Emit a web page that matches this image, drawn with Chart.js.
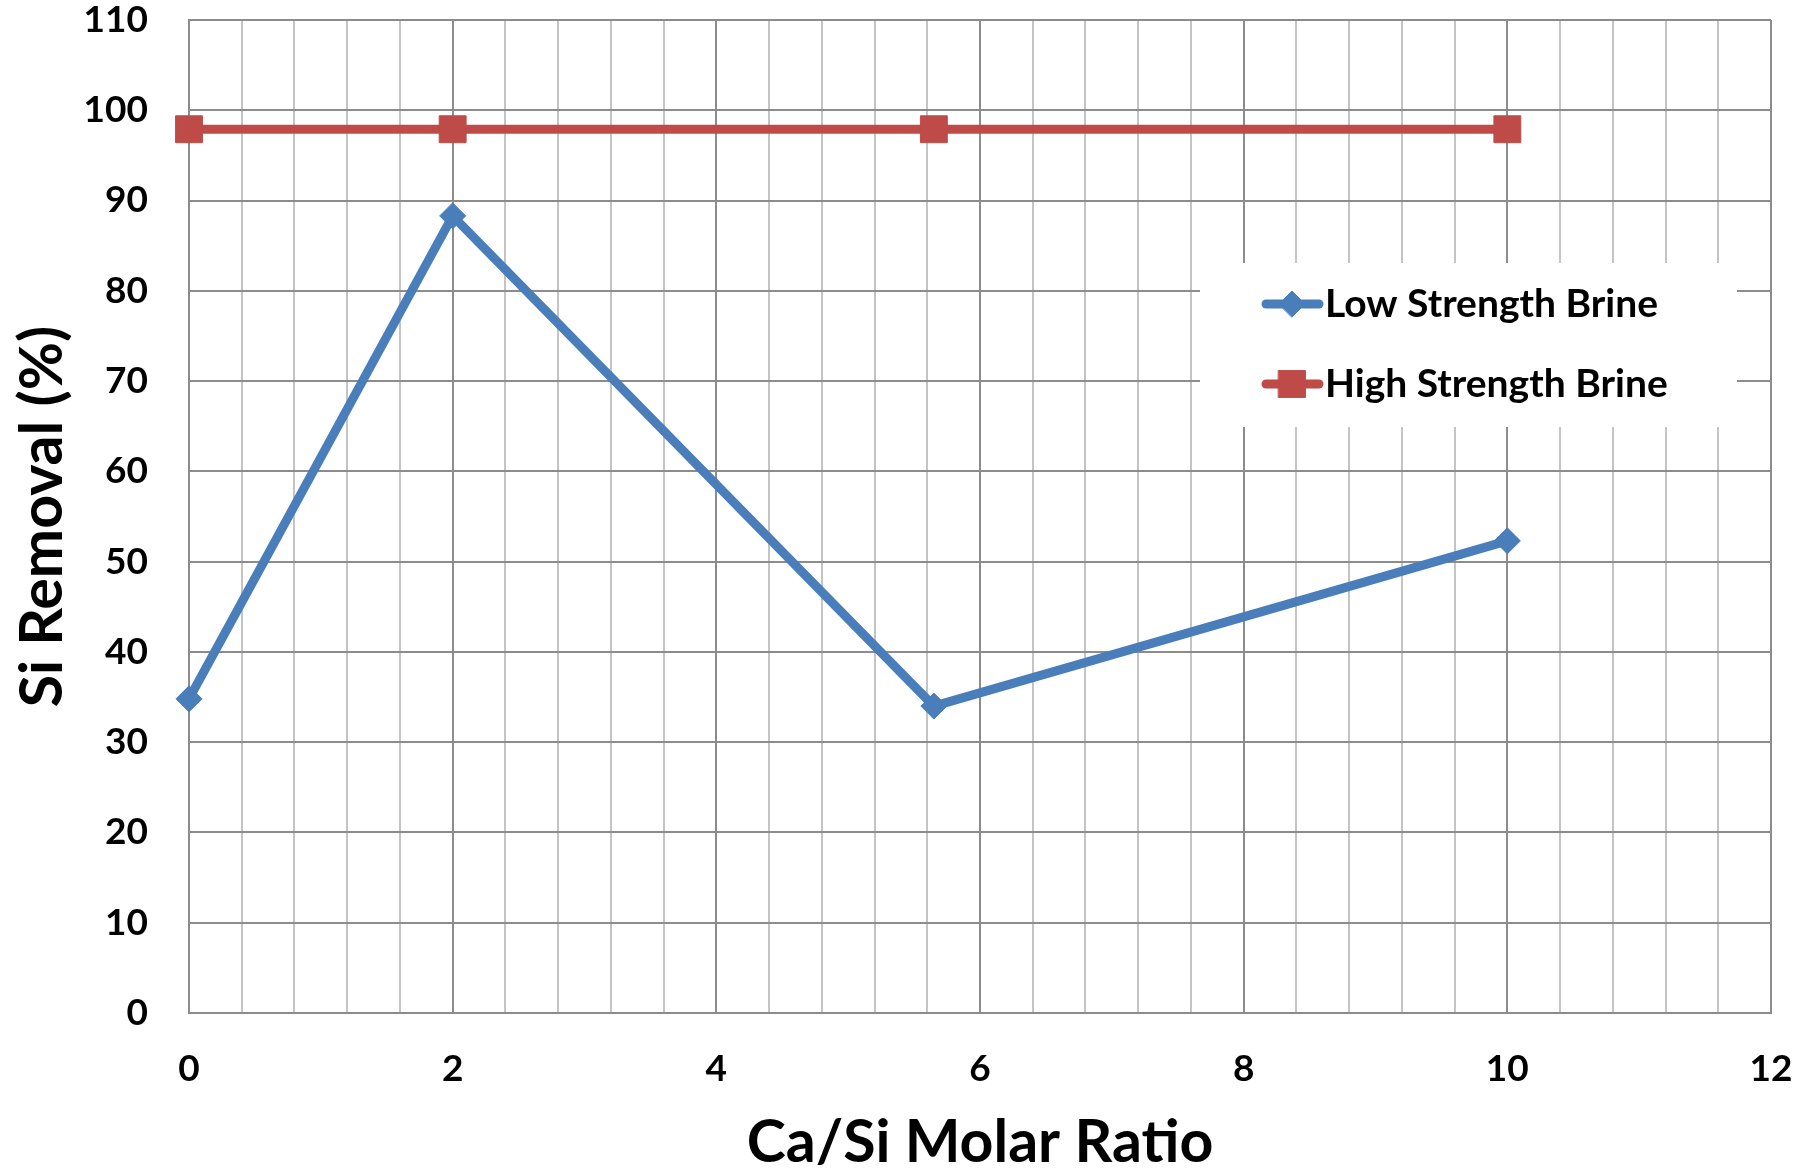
<!DOCTYPE html>
<html lang="en">
<head>
<meta charset="UTF-8">
<title>Si Removal vs Ca/Si Molar Ratio</title>
<script src="https://cdn.jsdelivr.net/npm/chart.js@4.4.0/dist/chart.umd.min.js"></script>
<style>
  body { margin: 0; background: #fff; }
  #wrap { width: 1810px; height: 1172px; }
</style>
</head>
<body>
<div id="wrap"><canvas id="chart" width="1810" height="1172"></canvas></div>
<script>
// Ca/Si ratios tested and the measured Si removal for both brines
var molarRatio = [0, 2, 5.65, 10];
var lowStrength = [34.8, 88.3, 34.0, 52.3];
var highStrength = [97.9, 97.9, 97.9, 97.9];
var seriesNames = ["Low Strength Brine", "High Strength Brine"];
var xTickLabels = [0, 2, 4, 6, 8, 10, 12];
var yTickLabels = [0, 10, 20, 30, 40, 50, 60, 70, 80, 90, 100, 110];

var BLUE = "#4a7ebb";
var RED = "#be4b48";
var FONT = "Lato, 'Open Sans', sans-serif";

function points(ys) {
  return molarRatio.map(function (x, i) { return { x: x, y: ys[i] }; });
}

function isLabelled(v) {
  return xTickLabels.some(function (t) { return Math.abs(t - v) < 1e-6; });
}

// Excel style legend: line sample with marker, on a white box over the grid
var boxLegend = {
  id: "boxLegend",
  afterDatasetsDraw: function (chart) {
    var ctx = chart.ctx, area = chart.chartArea;
    var w = 537, h = 164;
    var left = area.right - 34 - w, top = area.top + 243;
    ctx.save();
    ctx.fillStyle = "#fff";
    ctx.fillRect(left, top, w, h);
    chart.data.datasets.forEach(function (ds, i) {
      var y = top + 41 + i * 80;
      var x0 = left + 66;
      ctx.strokeStyle = ds.borderColor;
      ctx.fillStyle = ds.backgroundColor;
      ctx.lineWidth = ds.borderWidth;
      ctx.lineCap = "round";
      ctx.beginPath();
      ctx.moveTo(x0, y);
      ctx.lineTo(x0 + 53, y);
      ctx.stroke();
      ctx.lineWidth = 1;
      Chart.helpers.drawPoint(ctx, { pointStyle: ds.pointStyle, radius: ds.pointRadius, borderWidth: 1, rotation: 0 }, x0 + 26, y);
      ctx.fillStyle = "#000";
      ctx.font = "bold 39px " + FONT;
      ctx.textBaseline = "middle";
      ctx.textAlign = "left";
      ctx.fillText(ds.label, x0 + 59, y);
    });
    ctx.restore();
  }
};

new Chart(document.getElementById("chart"), {
  type: "line",
  data: {
    datasets: [
      {
        label: seriesNames[0],
        data: points(lowStrength),
        borderColor: BLUE,
        backgroundColor: BLUE,
        borderWidth: 9,
        pointStyle: "rectRot",
        pointRadius: 13,
        pointBorderWidth: 1,
        tension: 0,
        clip: false
      },
      {
        label: seriesNames[1],
        data: points(highStrength),
        borderColor: RED,
        backgroundColor: RED,
        borderWidth: 9,
        pointStyle: "rect",
        pointRadius: 19,
        pointBorderWidth: 1,
        tension: 0,
        clip: false
      }
    ]
  },
  options: {
    responsive: false,
    animation: false,
    layout: { padding: 0 },
    plugins: { legend: { display: false }, tooltip: { enabled: false } },
    scales: {
      x: {
        type: "linear",
        min: 0,
        max: 12,
        afterFit: function (s) { s.height = 159; s.paddingLeft = 0; s.paddingRight = 39; },
        border: { display: true, color: "#8c8c8c", width: 2 },
        grid: {
          drawTicks: false,
          lineWidth: 2,
          color: function (c) { return isLabelled(c.tick.value) ? "#8c8c8c" : "#c4c4c4"; }
        },
        ticks: {
          stepSize: 0.4,
          autoSkip: false,
          maxRotation: 0,
          padding: 34,
          color: "#000",
          font: { family: FONT, size: 37, weight: "bold" },
          callback: function (v) { return isLabelled(v) ? String(Math.round(v)) : ""; }
        },
        title: {
          display: true,
          text: "Ca/Si Molar Ratio",
          color: "#000",
          font: { family: FONT, size: 59, weight: "bold", lineHeight: 1 },
          padding: { top: 10, bottom: 0 }
        }
      },
      y: {
        min: 0,
        max: 110,
        afterFit: function (s) { s.width = 189; s.paddingTop = 20; s.paddingBottom = 0; },
        border: { display: true, color: "#8c8c8c", width: 2 },
        grid: { drawTicks: false, lineWidth: 2, color: "#8c8c8c" },
        ticks: {
          stepSize: 10,
          padding: 41,
          color: "#000",
          font: { family: FONT, size: 37, weight: "bold" },
          callback: function (v) { return yTickLabels.indexOf(v) >= 0 ? String(v) : ""; }
        },
        title: {
          display: true,
          text: "Si Removal (%)",
          color: "#000",
          font: { family: FONT, size: 59, weight: "bold" },
          padding: { top: 8, bottom: 0 }
        }
      }
    }
  },
  plugins: [boxLegend]
});
</script>
</body>
</html>
